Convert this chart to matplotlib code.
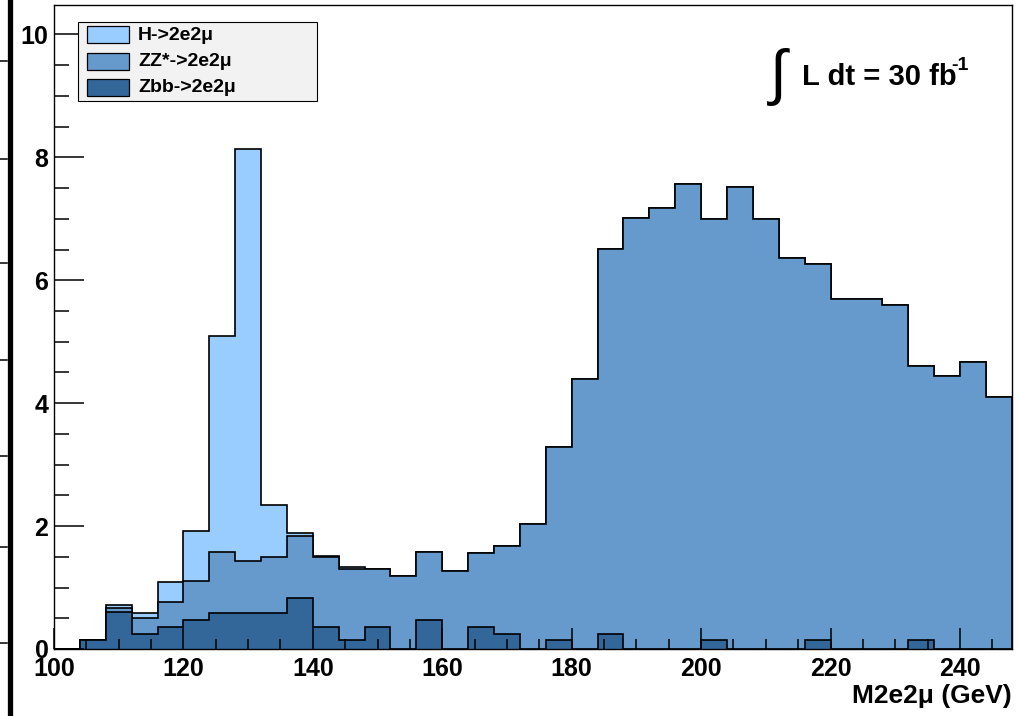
import numpy as np
import matplotlib
matplotlib.use('Agg')
import matplotlib.pyplot as plt
from matplotlib.lines import Line2D
from matplotlib.patches import Rectangle
from matplotlib.ticker import MultipleLocator

plt.rcParams['font.family'] = ['Liberation Sans', 'DejaVu Sans']
plt.rcParams['font.weight'] = 'bold'

# 4 GeV bins from 100 to 248
edges = np.arange(100, 252, 4)

# per-process content of each bin (stacked: zbb, then zz, then higgs)
zbb = [0, 0.14, 0.60, 0.24, 0.35, 0.47, 0.59, 0.59, 0.59, 0.83,
       0.35, 0.14, 0.35, 0, 0.47, 0, 0.35, 0.24, 0, 0.14,
       0, 0.24, 0, 0, 0, 0.14, 0, 0, 0, 0.14,
       0, 0, 0, 0.14, 0, 0, 0]
zz = [0, 0, 0.06, 0.27, 0.42, 0.64, 0.99, 0.85, 0.91, 1.01,
      1.15, 1.17, 0.95, 1.19, 1.11, 1.27, 1.22, 1.43, 2.03, 3.15,
      4.40, 6.27, 7.01, 7.18, 7.57, 6.85, 7.52, 6.99, 6.37, 6.12,
      5.70, 5.70, 5.59, 4.47, 4.44, 4.67, 4.10]
higgs = [0, 0.01, 0.05, 0.07, 0.32, 0.81, 3.51, 6.69, 0.84, 0.04,
         0.01, 0.03, 0.01, 0, 0, 0, 0, 0, 0, 0,
         0, 0, 0, 0, 0, 0, 0, 0, 0, 0,
         0, 0, 0, 0, 0, 0, 0]

labels = ['H->2e2\u03bc', 'ZZ*->2e2\u03bc', 'Zbb->2e2\u03bc']
colors = ['#99ccff', '#6699cc', '#336699']

W, H = 1019, 716
fig = plt.figure(figsize=(W / 100, H / 100), dpi=100)

def fx(px):
    return px / W

def fy(py):
    return 1 - py / H

ax = fig.add_axes([fx(54), fy(649), fx(1011.7) - fx(54), fy(5) - fy(649)])

s1 = np.array(zbb)
s2 = s1 + np.array(zz)
s3 = s2 + np.array(higgs)
for vals, c in zip([s3, s2, s1], colors):
    ax.stairs(vals, edges, fill=True, baseline=0, facecolor=c,
              edgecolor='none')
    ax.stairs(vals, edges, baseline=0, color='black', linewidth=1.2)

ax.set_xlim(100, 248)
ax.set_ylim(0, 10.48)
ax.xaxis.set_major_locator(MultipleLocator(20))
ax.xaxis.set_minor_locator(MultipleLocator(5))
ax.yaxis.set_major_locator(MultipleLocator(2))
ax.yaxis.set_minor_locator(MultipleLocator(0.5))
ax.tick_params(axis='both', which='both', direction='in', width=1.1,
               top=False, right=False, labelsize=18)
ax.tick_params(axis='y', which='major', length=21.6, pad=4)
ax.tick_params(axis='y', which='minor', length=10.8)
ax.tick_params(axis='x', which='major', length=15, pad=6)
ax.tick_params(axis='x', which='minor', length=7.5)
for sp in ax.spines.values():
    sp.set_linewidth(1.0)
ax.set_xlabel('M2e2\u03bc (GeV)', loc='right', fontsize=19,
              fontweight='bold', labelpad=2)

# legend box
fig.add_artist(Rectangle((fx(78), fy(101)), fx(317) - fx(78), fy(22) - fy(101),
                         transform=fig.transFigure, facecolor='#f2f2f2',
                         edgecolor='black', linewidth=0.8))
for i, (lab, c) in enumerate(zip(labels, colors)):
    top = 26 + i * 26.5
    fig.add_artist(Rectangle((fx(87), fy(top + 17)), fx(129) - fx(87), fy(top) - fy(top + 17),
                             transform=fig.transFigure, facecolor=c,
                             edgecolor='black', linewidth=0.9))
    fig.text(fx(138), fy(top + 9), lab, fontsize=14, ha='left', va='center')

# luminosity label
fig.text(fx(770), fy(93), '\u222b', fontsize=44, family='Liberation Sans',
         fontweight='normal', ha='left', va='baseline')
fig.text(fx(802), fy(85), 'L dt = 30 fb', fontsize=21, ha='left', va='baseline')
fig.text(fx(951), fy(70), '-1', fontsize=14, ha='left', va='baseline')

# cropped frame of a neighbouring pad on the left edge
fig.add_artist(Line2D([fx(9.5), fx(9.5)], [0, 1], transform=fig.transFigure,
                      color='black', linewidth=3.8))
for ty in [61, 159, 263, 360, 456, 547, 643]:
    fig.add_artist(Line2D([0, fx(7)], [fy(ty), fy(ty)], transform=fig.transFigure,
                          color='black', linewidth=1.1))

fig.savefig('out.png', dpi=100)
